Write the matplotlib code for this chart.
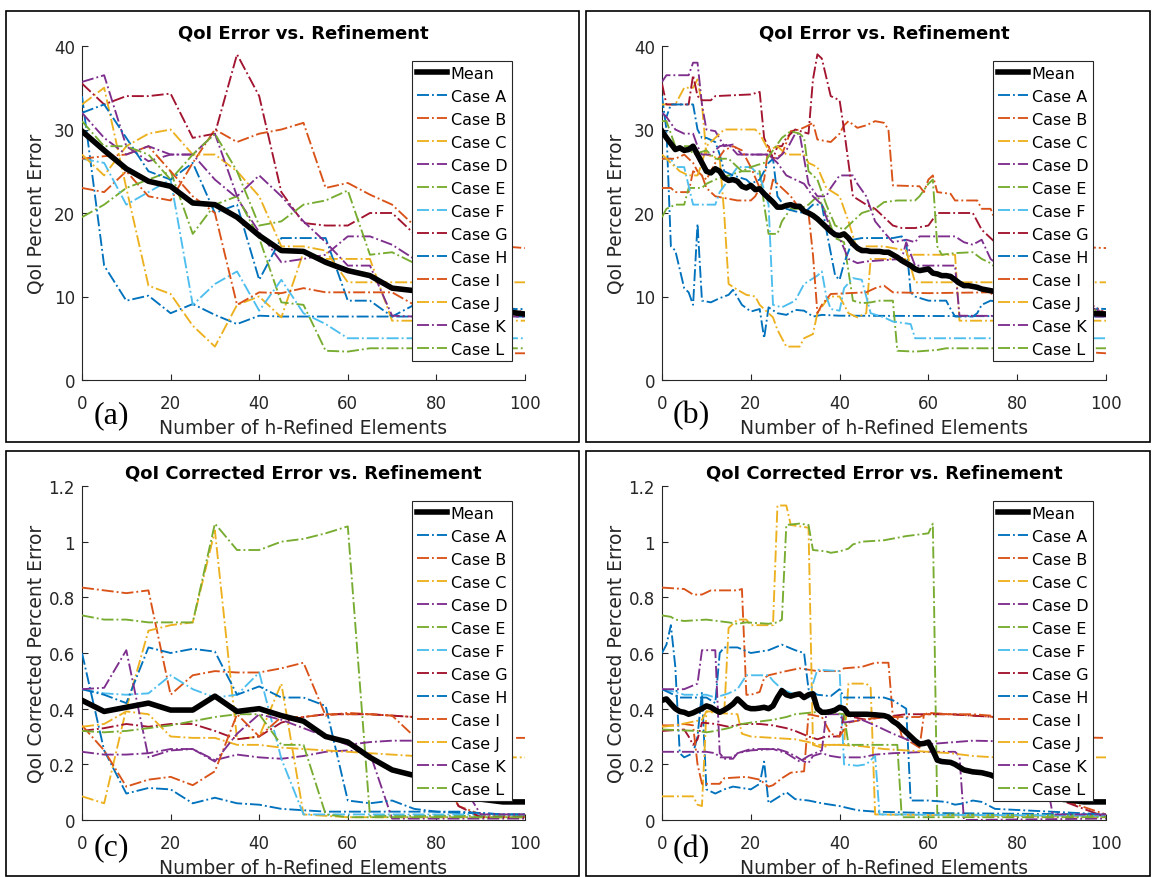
import matplotlib
matplotlib.use("Agg")
import matplotlib.pyplot as plt
from matplotlib.patches import Rectangle
from matplotlib.ticker import FuncFormatter

plt.rcParams['font.family'] = ['DejaVu Sans']

case_names = ['Case A', 'Case B', 'Case C', 'Case D', 'Case E', 'Case F',
              'Case G', 'Case H', 'Case I', 'Case J', 'Case K', 'Case L']
case_colors = ['#0072BD', '#D95319', '#EDB120', '#7E2F8E', '#77AC30', '#4DBEEE',
               '#A2142F', '#0072BD', '#D95319', '#EDB120', '#7E2F8E', '#77AC30']

# Coarse refinement steps (every 5 elements) used in panels (a) and (c)
x_coarse = [0, 5, 10, 15, 20, 25, 30, 35, 40, 45, 50, 55, 60, 65, 70, 75, 80, 85, 90, 95, 100]

# ---------------- (a) QoI error, coarse steps ----------------
a_mean = [29.8, 27.5, 25.3, 23.8, 23.2, 21.2, 21.0, 19.5, 17.3, 15.5, 15.4, 14.1, 13.1, 12.5, 11.0, 10.7, 10.0, 9.3, 8.7, 8.2, 7.9]
a_case_a = [34, 13.7, 9.5, 10.1, 8.0, 9.1, 7.8, 6.7, 7.7, 7.6, 7.6, 7.6, 7.6, 7.6, 7.6, 7.6, 7.6, 7.6, 7.6, 7.6, 7.6]
a_case_b = [23, 22.5, 25, 22, 21.5, 26, 30, 28.5, 29.5, 30, 30.8, 23, 23.6, 22.2, 21, 18.5, 17.5, 17, 16.5, 16, 15.8]
a_case_c = [33, 35, 23, 11.3, 10.3, 6.5, 4, 9, 10, 7.5, 15.3, 14.5, 14.5, 14.5, 7.1, 7.1, 7.1, 7.1, 7.1, 7.1, 7.1]
a_case_d = [35.7, 36.5, 28, 26.2, 27, 27, 24, 21.8, 17.7, 14.1, 14.5, 15, 17.2, 17.2, 16.2, 14.5, 12.5, 11, 9.5, 8.5, 8]
a_case_e = [19.5, 21, 23, 24, 25, 17.5, 21, 22, 17, 9.3, 9, 3.5, 3.4, 3.8, 3.8, 3.8, 3.8, 3.8, 3.8, 3.8, 3.8]
a_case_f = [26.5, 26, 21, 22.5, 24, 9, 11.5, 13, 8.3, 12, 8, 6.7, 5, 5, 5, 5, 5, 5, 5, 5, 5]
a_case_g = [35.5, 33, 34, 34, 34.3, 29, 29.5, 39, 34, 22.5, 18.8, 18.5, 18.5, 20, 20, 17.5, 15, 13, 11, 9, 8]
a_case_h = [32, 33, 29, 25, 24, 26, 20, 21, 12, 17, 17, 17, 9.5, 9.5, 7.6, 9, 8.7, 8.5, 8.5, 8.5, 8.5]
a_case_i = [26.5, 26.8, 27, 28, 25, 22, 20, 9, 10.5, 10.4, 11, 10.5, 10.5, 10.5, 10.5, 9, 7, 5, 4, 3.2, 3.2]
a_case_j = [27, 24.5, 28, 29.5, 30, 27, 27, 25, 22, 16, 16, 15.5, 11.7, 11.7, 11.7, 11.7, 11.7, 11.7, 11.7, 11.7, 11.7]
a_case_k = [32, 29, 27, 28, 27, 27, 29.5, 22, 24.5, 22, 19, 16.5, 13.7, 13.7, 7.7, 7.6, 7.6, 7.6, 7.6, 7.6, 7.6]
a_case_l = [31, 28, 28, 27, 24, 27, 29.5, 25, 18.5, 19, 21, 21.5, 22.7, 15, 15.3, 14, 12.5, 11, 9.5, 8.5, 8]

# ---------------- (b) QoI error, single-element steps (x, y) ----------------
b_mean = [(0, 29.8), (1, 29), (2, 28.3), (3, 27.6), (4, 27.8), (5, 27.5), (6, 27.6), (7, 28), (8, 27),
          (9, 26), (10, 25), (11, 24.8), (12, 25.3), (13, 25), (14, 24.2), (15, 23.9), (16, 24),
          (17, 23.8), (18, 23.2), (19, 23), (20, 23.3), (21, 22.8), (22, 22.9), (23, 22.3), (24, 21.8),
          (25, 21.3), (26, 20.7), (27, 20.7), (28, 20.9), (29, 21), (30, 20.8), (31, 20.8), (32, 20.2),
          (33, 20), (34, 19.7), (35, 19.3), (36, 18.8), (37, 18.3), (38, 17.8), (39, 17.4), (40, 17.3),
          (41, 17.5), (42, 17), (43, 16.3), (44, 15.8), (45, 15.5), (46, 15.5), (47, 15.4), (48, 15.4),
          (49, 15.4), (50, 15.3), (51, 15.3), (52, 15), (53, 14.7), (54, 14.3), (55, 14), (56, 13.7),
          (57, 13.3), (58, 13.1), (59, 13.2), (60, 13.3), (61, 12.8), (62, 12.7), (63, 12.5), (64, 12.5),
          (65, 12.4), (66, 12), (67, 11.6), (68, 11.3), (69, 11.3), (70, 11.2), (71, 11.1), (72, 10.9),
          (73, 10.8), (74, 10.7), (75, 10.6), (80, 10), (85, 9.2), (90, 8.5), (95, 8), (100, 7.9)]
b_case_a = [(0, 34), (1, 30), (2, 16), (3, 15.5), (5, 11), (6, 10.5), (7, 9), (8, 18.7), (9, 9.5), (11, 9.3),
            (13, 9.8), (15, 10.2), (16, 10.8), (18, 9), (20, 8.2), (22, 8.5), (23, 5), (24, 8.7), (26, 8),
            (28, 7.8), (30, 8.4), (32, 8.3), (34, 7.6), (36, 7.8), (40, 7.7), (100, 7.6)]
b_case_b = [(0, 23), (2, 23), (3, 22.5), (6, 22.5), (7, 25), (9, 24.5), (10, 23), (12, 22), (14, 21.8),
            (17, 21.5), (20, 21.5), (21, 22), (23, 24), (24, 28), (25, 26.5), (27, 27), (29, 29.8), (31, 30),
            (33, 30.5), (34, 30.8), (35, 28.8), (38, 28.5), (40, 29.5), (41, 30.5), (42, 31), (44, 30.2),
            (46, 30.5), (48, 31), (50, 30.8), (51, 30), (52, 23.3), (58, 23.2), (59, 22.5), (60, 24),
            (61, 24.5), (62, 22.5), (65, 22.3), (66, 21.5), (71, 21.5), (72, 20.5), (74, 20.5), (76, 18),
            (80, 17), (90, 16), (100, 15.8)]
b_case_c = [(0, 33), (3, 33), (4, 34), (5, 35), (7, 35), (8, 36), (9, 33), (10, 27), (13, 26.5), (14, 20),
            (15, 11.5), (17, 10.8), (19, 10.2), (21, 10), (22, 9), (23, 8.5), (25, 7.5), (26, 6), (27, 5),
            (28, 4), (31, 4), (32, 5), (34, 5.5), (35, 8), (37, 9.5), (38, 10), (40, 10), (42, 8), (44, 7.5),
            (46, 8), (47, 14.5), (49, 14.5), (55, 14.5), (56, 15), (66, 15), (67, 7.1), (100, 7.1)]
b_case_d = [(0, 35.7), (1, 36.5), (6, 36.5), (7, 38), (8, 38), (9, 33), (10, 30), (12, 29.8), (14, 28),
            (16, 28.2), (18, 27), (24, 27), (26, 26.5), (28, 27.5), (30, 29.5), (31, 29.5), (33, 23.5),
            (35, 22), (37, 22), (38, 23), (40, 24.5), (43, 24.5), (44, 23.5), (46, 22), (48, 19), (50, 17.7),
            (52, 16.5), (55, 16.8), (57, 16.5), (58, 17.2), (66, 17.2), (68, 16.5), (70, 16.2), (72, 16.8),
            (74, 14.5), (80, 12), (100, 8)]
b_case_e = [(0, 19.5), (1, 20.5), (3, 21), (5, 21), (6, 23), (9, 23), (10, 23.5), (12, 24), (15, 24.5),
            (18, 25), (22, 25), (23, 21), (24, 17.5), (26, 17.5), (27, 19), (29, 20.5), (31, 20.5), (33, 21),
            (35, 22), (37, 20), (39, 17), (41, 16.5), (43, 9.5), (45, 9.2), (47, 9.3), (49, 9.5), (52, 9.5),
            (53, 3.5), (57, 3.4), (62, 3.6), (64, 3.8), (100, 3.8)]
b_case_f = [(0, 26.5), (2, 26.5), (3, 25.5), (5, 25.5), (7, 21), (12, 21), (13, 22.5), (15, 24), (17, 25.5),
            (20, 25.5), (22, 24.5), (24, 21), (25, 9), (27, 8.7), (30, 9.5), (32, 11.5), (35, 12.5), (36, 13),
            (37, 10), (38, 8.5), (40, 8.3), (41, 11), (43, 12.2), (45, 12), (47, 8), (50, 7.5), (52, 7),
            (56, 6.7), (57, 5), (100, 5)]
b_case_g = [(0, 35.5), (1, 33), (6, 33), (7, 36.5), (8, 34), (9, 33.5), (11, 33.5), (12, 34), (20, 34.2),
            (22, 34.5), (23, 29), (25, 26.5), (26, 28), (27, 28), (28, 29), (30, 30), (33, 29.5), (34, 36),
            (35, 39), (36, 38.5), (38, 34), (40, 33.5), (41, 30), (43, 22), (46, 21), (48, 20.5), (50, 19.5),
            (52, 18.5), (54, 18.2), (57, 18.2), (60, 18.5), (62, 20), (70, 20), (72, 18), (74, 17), (80, 14),
            (100, 8)]
b_case_h = [(0, 32), (1, 31.5), (2, 33), (7, 33), (8, 30), (9, 29), (10, 29), (12, 28.5), (13, 27), (14, 25),
            (16, 24.5), (19, 24), (20, 23.5), (22, 24), (24, 26), (25, 26.5), (26, 22), (28, 20.5), (30, 20.2),
            (32, 20), (34, 21), (36, 21), (37, 18), (39, 12.5), (40, 12), (41, 14), (43, 16.8), (45, 17),
            (52, 17), (54, 17.2), (55, 16.5), (56, 10.5), (57, 10), (60, 9.5), (64, 9.5), (65, 8.5), (66, 7.6),
            (70, 7.6), (71, 8), (72, 9), (74, 9.5), (80, 9), (100, 8.5)]
b_case_i = [(0, 26.5), (3, 26.5), (5, 27), (7, 26), (8, 25), (10, 24), (12, 26), (14, 27.5), (16, 28),
            (18, 27.5), (20, 25.5), (22, 23), (24, 21.5), (25, 24), (27, 23), (29, 22), (31, 20.5), (33, 20),
            (34, 15), (35, 8), (36, 9), (38, 10.3), (42, 10.4), (46, 10.5), (48, 11), (50, 11.3), (52, 10.5),
            (60, 10.4), (74, 10.5), (80, 6), (90, 3.5), (100, 3.2)]
b_case_j = [(0, 27), (2, 26), (4, 25), (6, 24.5), (8, 24.5), (9, 26), (10, 28), (12, 29), (14, 30), (21, 30),
            (22, 29.5), (24, 27.5), (26, 28), (28, 27), (32, 27), (33, 26), (35, 25.5), (37, 23), (40, 22),
            (42, 19), (44, 15.5), (46, 16), (50, 16), (55, 15.5), (57, 11.7), (100, 11.7)]
b_case_k = [(0, 32), (1, 31.5), (3, 30), (5, 29.5), (7, 29.5), (8, 28), (9, 27), (11, 27), (13, 28),
            (15, 28.2), (17, 27), (24, 27), (26, 26), (28, 24.5), (30, 24), (32, 23.5), (34, 22), (36, 21),
            (38, 18), (40, 17), (42, 14.5), (44, 14), (46, 14.2), (54, 14.5), (55, 16.5), (57, 13.7),
            (66, 13.7), (67, 7.7), (100, 7.6)]
b_case_l = [(0, 31), (1, 31), (3, 28), (6, 28), (7, 27), (10, 27.5), (12, 26.5), (15, 26.5), (18, 25),
            (20, 25.5), (23, 26), (25, 27.5), (27, 29), (29, 29.8), (31, 29.5), (32, 29), (33, 25), (35, 24),
            (37, 21), (39, 18.5), (41, 18), (43, 19), (45, 20), (48, 20.5), (50, 21.3), (53, 21.5), (57, 21.5),
            (58, 22), (60, 23.5), (61, 24), (62, 16), (63, 15), (66, 15.2), (70, 15.3), (72, 14.5), (74, 14),
            (80, 11), (100, 8)]

# ---------------- (c) QoI corrected error, coarse steps ----------------
c_mean = [0.43, 0.39, 0.405, 0.42, 0.395, 0.395, 0.445, 0.39, 0.40, 0.375, 0.355, 0.30, 0.28, 0.225, 0.18, 0.16, 0.12, 0.09, 0.075, 0.065, 0.065]
c_case_a = [0.6, 0.25, 0.095, 0.115, 0.11, 0.06, 0.08, 0.06, 0.055, 0.04, 0.035, 0.03, 0.03, 0.03, 0.03, 0.03, 0.03, 0.025, 0.025, 0.02, 0.02]
c_case_b = [0.835, 0.825, 0.815, 0.825, 0.45, 0.52, 0.535, 0.53, 0.53, 0.545, 0.565, 0.375, 0.385, 0.38, 0.375, 0.37, 0.2, 0.05, 0.02, 0.02, 0.02]
c_case_c = [0.085, 0.06, 0.40, 0.68, 0.70, 0.71, 1.04, 0.29, 0.30, 0.49, 0.02, 0.015, 0.01, 0.01, 0.01, 0.01, 0.01, 0.01, 0.01, 0.01, 0.01]
c_case_d = [0.245, 0.235, 0.235, 0.24, 0.255, 0.255, 0.215, 0.235, 0.225, 0.22, 0.23, 0.245, 0.25, 0.24, 0.005, 0.005, 0.005, 0.005, 0.005, 0.005, 0.005]
c_case_e = [0.735, 0.72, 0.72, 0.71, 0.71, 0.71, 1.065, 0.97, 0.97, 1.0, 1.01, 1.03, 1.055, 0.015, 0.015, 0.015, 0.015, 0.015, 0.015, 0.015, 0.015]
c_case_f = [0.47, 0.455, 0.45, 0.455, 0.52, 0.47, 0.44, 0.45, 0.53, 0.22, 0.02, 0.02, 0.02, 0.02, 0.02, 0.02, 0.02, 0.02, 0.02, 0.02, 0.02]
c_case_g = [0.32, 0.33, 0.345, 0.335, 0.345, 0.345, 0.32, 0.29, 0.30, 0.35, 0.37, 0.38, 0.38, 0.38, 0.375, 0.37, 0.2, 0.05, 0.01, 0.01, 0.01]
c_case_h = [0.47, 0.45, 0.42, 0.62, 0.60, 0.615, 0.605, 0.45, 0.48, 0.44, 0.44, 0.41, 0.07, 0.06, 0.07, 0.04, 0.03, 0.03, 0.025, 0.02, 0.02]
c_case_i = [0.34, 0.25, 0.12, 0.145, 0.155, 0.125, 0.175, 0.38, 0.30, 0.37, 0.37, 0.38, 0.38, 0.38, 0.375, 0.30, 0.30, 0.295, 0.295, 0.295, 0.295]
c_case_j = [0.335, 0.345, 0.39, 0.38, 0.30, 0.295, 0.295, 0.27, 0.27, 0.26, 0.255, 0.25, 0.245, 0.24, 0.235, 0.23, 0.225, 0.225, 0.225, 0.225, 0.225]
c_case_k = [0.47, 0.475, 0.61, 0.225, 0.25, 0.255, 0.21, 0.31, 0.38, 0.36, 0.33, 0.30, 0.27, 0.28, 0.285, 0.285, 0.28, 0.15, 0.02, 0.02, 0.02]
c_case_l = [0.32, 0.315, 0.32, 0.33, 0.34, 0.355, 0.37, 0.38, 0.38, 0.27, 0.27, 0.02, 0.01, 0.01, 0.01, 0.01, 0.01, 0.01, 0.01, 0.01, 0.01]

# ---------------- (d) QoI corrected error, single-element steps (x, y) ----------------
d_mean = [(0, 0.43), (1, 0.435), (2, 0.417), (3, 0.40), (4, 0.39), (5, 0.387), (6, 0.38), (7, 0.385),
          (8, 0.393), (9, 0.40), (10, 0.41), (11, 0.405), (12, 0.395), (13, 0.387), (14, 0.395), (15, 0.405),
          (16, 0.417), (17, 0.435), (18, 0.42), (19, 0.405), (20, 0.40), (21, 0.40), (22, 0.402), (23, 0.405),
          (24, 0.40), (25, 0.41), (26, 0.44), (27, 0.465), (28, 0.45), (29, 0.445), (30, 0.45), (31, 0.453),
          (32, 0.44), (33, 0.45), (34, 0.453), (35, 0.40), (36, 0.387), (37, 0.387), (38, 0.39), (39, 0.395),
          (40, 0.405), (41, 0.40), (42, 0.38), (44, 0.38), (46, 0.38), (48, 0.378), (50, 0.375), (51, 0.37),
          (52, 0.355), (53, 0.345), (54, 0.33), (55, 0.315), (56, 0.30), (57, 0.285), (58, 0.273), (59, 0.275),
          (60, 0.28), (61, 0.25), (62, 0.215), (63, 0.21), (65, 0.207), (66, 0.2), (67, 0.19), (68, 0.18),
          (70, 0.173), (72, 0.17), (74, 0.162), (80, 0.12), (85, 0.09), (90, 0.075), (95, 0.065), (100, 0.065)]
d_case_a = [(0, 0.6), (1, 0.63), (2, 0.7), (3, 0.55), (4, 0.24), (5, 0.225), (7, 0.24), (8, 0.3), (9, 0.46),
            (10, 0.11), (12, 0.095), (14, 0.11), (16, 0.12), (18, 0.115), (20, 0.11), (22, 0.13), (23, 0.21),
            (24, 0.06), (26, 0.08), (28, 0.1), (30, 0.075), (33, 0.07), (36, 0.06), (40, 0.05), (44, 0.035),
            (48, 0.03), (60, 0.025), (100, 0.02)]
d_case_b = [(0, 0.835), (5, 0.83), (7, 0.81), (9, 0.81), (11, 0.825), (17, 0.825), (18, 0.83), (19, 0.45),
            (20, 0.45), (22, 0.46), (23, 0.51), (24, 0.52), (28, 0.535), (31, 0.545), (35, 0.535), (40, 0.535),
            (41, 0.545), (45, 0.55), (48, 0.565), (51, 0.565), (52, 0.37), (58, 0.37), (60, 0.385), (65, 0.38),
            (70, 0.375), (75, 0.37), (85, 0.1), (100, 0.02)]
d_case_c = [(0, 0.085), (7, 0.085), (8, 0.055), (9, 0.05), (10, 0.39), (12, 0.39), (14, 0.38), (15, 0.69),
            (17, 0.72), (19, 0.72), (20, 0.70), (25, 0.70), (26, 1.13), (28, 1.13), (29, 1.06), (33, 1.05),
            (34, 0.27), (36, 0.26), (38, 0.27), (41, 0.27), (42, 0.49), (46, 0.49), (47, 0.475), (48, 0.02),
            (100, 0.01)]
d_case_d = [(0, 0.245), (10, 0.245), (12, 0.24), (13, 0.225), (16, 0.225), (17, 0.24), (20, 0.255),
            (26, 0.255), (28, 0.245), (30, 0.23), (32, 0.21), (33, 0.205), (34, 0.23), (36, 0.24), (38, 0.23),
            (40, 0.225), (45, 0.225), (48, 0.235), (52, 0.24), (60, 0.245), (66, 0.245), (67, 0.23), (68, 0.0),
            (100, 0.005)]
d_case_e = [(0, 0.735), (2, 0.73), (3, 0.72), (5, 0.715), (10, 0.72), (15, 0.71), (17, 0.705), (19, 0.71),
            (24, 0.705), (26, 0.71), (27, 0.72), (28, 1.06), (31, 1.065), (33, 1.06), (34, 0.97), (37, 0.965),
            (38, 0.96), (40, 0.965), (42, 0.975), (43, 0.99), (45, 1.0), (50, 1.005), (55, 1.02), (60, 1.03),
            (61, 1.065), (62, 0.02), (100, 0.015)]
d_case_f = [(0, 0.47), (3, 0.46), (5, 0.45), (10, 0.45), (12, 0.44), (15, 0.455), (17, 0.47), (19, 0.52),
            (24, 0.52), (25, 0.5), (27, 0.47), (30, 0.45), (33, 0.44), (35, 0.54), (40, 0.535), (41, 0.2),
            (44, 0.195), (46, 0.2), (48, 0.23), (49, 0.02), (100, 0.015)]
d_case_g = [(0, 0.32), (5, 0.325), (6, 0.3), (7, 0.27), (8, 0.29), (9, 0.35), (12, 0.345), (15, 0.335),
            (18, 0.345), (22, 0.345), (25, 0.34), (28, 0.33), (30, 0.32), (33, 0.3), (35, 0.29), (37, 0.3),
            (40, 0.3), (41, 0.38), (43, 0.37), (46, 0.36), (50, 0.37), (55, 0.38), (65, 0.38), (70, 0.375),
            (75, 0.37), (85, 0.1), (100, 0.01)]
d_case_h = [(0, 0.47), (2, 0.455), (4, 0.44), (10, 0.44), (12, 0.42), (13, 0.6), (14, 0.62), (17, 0.62),
            (20, 0.60), (24, 0.61), (27, 0.63), (30, 0.61), (32, 0.60), (33, 0.47), (35, 0.45), (38, 0.445),
            (40, 0.47), (41, 0.44), (50, 0.44), (52, 0.43), (54, 0.41), (55, 0.40), (56, 0.07), (60, 0.07),
            (64, 0.065), (66, 0.055), (68, 0.06), (70, 0.07), (72, 0.065), (75, 0.04), (100, 0.02)]
d_case_i = [(0, 0.34), (3, 0.34), (5, 0.345), (7, 0.34), (8, 0.2), (9, 0.13), (13, 0.13), (14, 0.15),
            (19, 0.155), (22, 0.145), (24, 0.12), (25, 0.125), (27, 0.15), (29, 0.17), (32, 0.175), (33, 0.38),
            (36, 0.37), (38, 0.31), (40, 0.30), (42, 0.35), (45, 0.36), (50, 0.37), (53, 0.37), (54, 0.3),
            (58, 0.26), (59, 0.38), (70, 0.38), (74, 0.375), (80, 0.3), (100, 0.295)]
d_case_j = [(0, 0.335), (3, 0.34), (6, 0.35), (9, 0.36), (10, 0.39), (12, 0.385), (17, 0.38), (18, 0.31),
            (20, 0.30), (25, 0.295), (30, 0.29), (33, 0.28), (35, 0.27), (40, 0.27), (45, 0.265), (50, 0.255),
            (55, 0.25), (60, 0.245), (65, 0.24), (70, 0.23), (75, 0.225), (100, 0.225)]
d_case_k = [(0, 0.47), (5, 0.47), (8, 0.49), (9, 0.61), (12, 0.61), (13, 0.24), (14, 0.22), (16, 0.22),
            (17, 0.24), (20, 0.25), (25, 0.255), (28, 0.24), (31, 0.21), (33, 0.23), (36, 0.25), (37, 0.38),
            (40, 0.38), (41, 0.35), (45, 0.36), (48, 0.34), (52, 0.31), (55, 0.29), (58, 0.27), (62, 0.275),
            (66, 0.28), (70, 0.285), (85, 0.28), (88, 0.02), (100, 0.02)]
d_case_l = [(0, 0.325), (8, 0.32), (10, 0.315), (12, 0.32), (15, 0.33), (18, 0.345), (20, 0.35), (25, 0.36),
            (28, 0.37), (30, 0.38), (36, 0.39), (41, 0.38), (42, 0.27), (53, 0.27), (54, 0.01), (100, 0.01)]

x_ticks = [0, 20, 40, 60, 80, 100]
err_ticks = [0, 10, 20, 30, 40]
corr_ticks = [0, 0.2, 0.4, 0.6, 0.8, 1.0, 1.2]

FIG_W, FIG_H = 1152, 879
AX_COLOR = '#262626'
CASE_LW = 1.35


def px_box(left, top, right, bottom):
    """Convert a pixel box (origin top-left) into figure-fraction [l, b, w, h]."""
    return [left / FIG_W, 1 - bottom / FIG_H, (right - left) / FIG_W, (bottom - top) / FIG_H]


def style_axes(ax, yticks, ylim, ylabel, title):
    ax.set_xlim(0, 100)
    ax.set_ylim(*ylim)
    ax.set_xticks(x_ticks)
    ax.set_yticks(yticks)
    ax.yaxis.set_major_formatter(FuncFormatter(lambda v, p: f'{v:g}'))
    for side in ('top', 'right'):
        ax.spines[side].set_visible(False)
    for side in ('left', 'bottom'):
        ax.spines[side].set_color(AX_COLOR)
        ax.spines[side].set_linewidth(0.8)
    ax.tick_params(axis='both', direction='in', length=4, width=0.8,
                   colors=AX_COLOR, labelsize=12)
    ax.tick_params(axis='x', pad=10)
    ax.tick_params(axis='y', pad=5)
    ax.set_xlabel('Number of h-Refined Elements', fontsize=13.5, color=AX_COLOR)
    ax.set_ylabel(ylabel, fontsize=13.5, color=AX_COLOR)
    ax.xaxis.set_label_coords(0.5, -0.115)
    ax.yaxis.set_label_coords(-0.083, 0.5)
    ax.set_title(title, fontsize=13, fontweight='bold', pad=6)


def add_legend(ax):
    leg = ax.legend(loc='upper right', bbox_to_anchor=(1 - 13 / 443, 1 - 15 / 334),
                    borderaxespad=0, fontsize=11.5, handlelength=1.85, handletextpad=0.25,
                    borderpad=0.3, labelspacing=0.5, fancybox=False, framealpha=1)
    leg.get_frame().set_edgecolor(AX_COLOR)
    leg.get_frame().set_linewidth(0.8)
    leg.set_zorder(10)


def draw_coarse(ax, mean, cases):
    ax.plot(x_coarse, mean, color='black', lw=4, label='Mean', zorder=5)
    for name, color, vals in zip(case_names, case_colors, cases):
        ax.plot(x_coarse, vals, linestyle='-.', color=color, lw=CASE_LW, label=name, zorder=3)


def draw_fine(ax, mean, cases):
    ax.plot([p[0] for p in mean], [p[1] for p in mean], color='black', lw=4,
            label='Mean', zorder=5, solid_joinstyle='round')
    for name, color, pts in zip(case_names, case_colors, cases):
        ax.plot([p[0] for p in pts], [p[1] for p in pts], linestyle='-.', color=color,
                lw=CASE_LW, label=name, zorder=3)


fig = plt.figure(figsize=(FIG_W / 100, FIG_H / 100), dpi=100)

# Panel frames
for box in [(6, 12, 579, 443), (586, 12, 1150, 443), (6, 452, 579, 877), (586, 452, 1150, 877)]:
    l, b, w, h = px_box(*box)
    fig.patches.append(Rectangle((l, b), w, h, transform=fig.transFigure, fill=False,
                                 edgecolor='black', linewidth=1.2, zorder=0))

ax_a = fig.add_axes(px_box(82, 47, 525, 381))
ax_b = fig.add_axes(px_box(662, 47, 1106, 381))
ax_c = fig.add_axes(px_box(82, 487, 525, 821))
ax_d = fig.add_axes(px_box(662, 487, 1106, 821))

draw_coarse(ax_a, a_mean, [a_case_a, a_case_b, a_case_c, a_case_d, a_case_e, a_case_f,
                           a_case_g, a_case_h, a_case_i, a_case_j, a_case_k, a_case_l])
draw_fine(ax_b, b_mean, [b_case_a, b_case_b, b_case_c, b_case_d, b_case_e, b_case_f,
                         b_case_g, b_case_h, b_case_i, b_case_j, b_case_k, b_case_l])
draw_coarse(ax_c, c_mean, [c_case_a, c_case_b, c_case_c, c_case_d, c_case_e, c_case_f,
                           c_case_g, c_case_h, c_case_i, c_case_j, c_case_k, c_case_l])
draw_fine(ax_d, d_mean, [d_case_a, d_case_b, d_case_c, d_case_d, d_case_e, d_case_f,
                         d_case_g, d_case_h, d_case_i, d_case_j, d_case_k, d_case_l])

for ax in (ax_a, ax_b):
    style_axes(ax, err_ticks, (0, 40), 'QoI Percent Error', 'QoI Error vs. Refinement')
for ax in (ax_c, ax_d):
    style_axes(ax, corr_ticks, (0, 1.2), 'QoI Corrected Percent Error',
               'QoI Corrected Error vs. Refinement')
for ax in (ax_a, ax_b, ax_c, ax_d):
    add_legend(ax)

# Panel letters
serif = ['Liberation Serif', 'DejaVu Serif']
for label, (px, py) in [('(a)', (111, 416)), ('(b)', (691, 416)), ('(c)', (111, 848)), ('(d)', (691, 850))]:
    fig.text(px / FIG_W, 1 - py / FIG_H, label, family=serif, fontsize=23,
             ha='center', va='center', color='black')

fig.savefig('out.png', dpi=100)
